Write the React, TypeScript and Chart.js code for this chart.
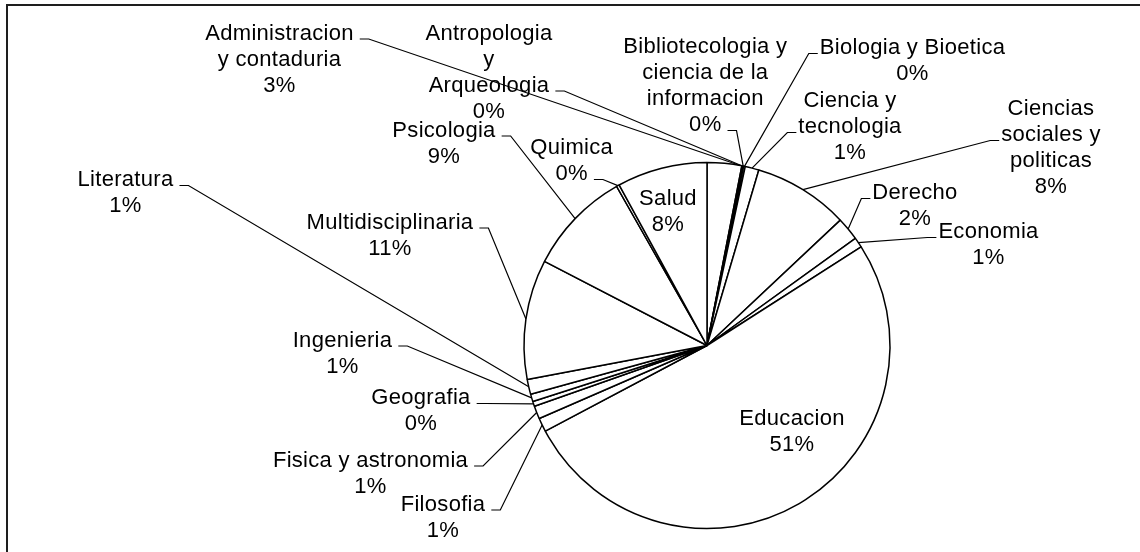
import React, { useEffect, useRef } from 'react';
import { Chart, registerables } from 'chart.js';

Chart.register(...registerables);

// Categories (line breaks as in the label boxes of the original)
const categories: string[] = [
  'Administracion\ny contaduria',
  'Antropologia\ny\nArqueologia',
  'Bibliotecologia y\nciencia de la\ninformacion',
  'Biologia y Bioetica',
  'Ciencia y\ntecnologia',
  'Ciencias\nsociales y\npoliticas',
  'Derecho',
  'Economia',
  'Educacion',
  'Filosofia',
  'Fisica y astronomia',
  'Geografia',
  'Ingenieria',
  'Literatura',
  'Multidisciplinaria',
  'Psicologia',
  'Quimica',
  'Salud',
];

// Share of each category (percent)
const shares: number[] = [
  3.05, 0.08, 0.08, 0.14, 1.22, 8.42, 2.06, 0.89, 51.3,
  1.22, 1.14, 0.44, 0.67, 1.31, 10.58, 9.17, 0.25, 7.97,
];

// Label layout: block centre-x and first baseline relative to the pie centre (px),
// the line the leader leaves from, which side, and where on the slice arc it ends.
type Placement = { dx: number; dy: number; line: number; side: 'l' | 'r' | null; at?: number };
const labelPlacement: Placement[] = [
  { dx: -427.5, dy: -306, line: 0, side: 'r', at: 0.95 },
  { dx: -218, dy: -306, line: 2, side: 'r' },
  { dx: -1.7, dy: -292.5, line: 3, side: 'r' },
  { dx: 205.5, dy: -291.5, line: 0, side: 'l' },
  { dx: 143, dy: -238.5, line: 1, side: 'l' },
  { dx: 344, dy: -230.5, line: 1, side: 'l' },
  { dx: 208, dy: -146.5, line: 0, side: 'l' },
  { dx: 281.5, dy: -107.5, line: 0, side: 'l' },
  { dx: 85, dy: 79.5, line: 0, side: null },
  { dx: -264, dy: 165, line: 0, side: 'r' },
  { dx: -336.5, dy: 121, line: 0, side: 'r' },
  { dx: -286, dy: 58.5, line: 0, side: 'r' },
  { dx: -364.5, dy: 1, line: 0, side: 'r' },
  { dx: -581.5, dy: -159.5, line: 0, side: 'r' },
  { dx: -317, dy: -117, line: 0, side: 'r' },
  { dx: -263, dy: -209, line: 0, side: 'r' },
  { dx: -135.3, dy: -191.5, line: 1, side: 'r' },
  { dx: -39, dy: -140.5, line: 0, side: null },
];

const FONT = '22px "Liberation Sans", Arial, Helvetica, sans-serif';
const LINE_H = 26;

const framePlugin = {
  id: 'frame',
  beforeDraw(chart: any) {
    const { ctx, width, height } = chart;
    ctx.save();
    ctx.fillStyle = '#ffffff';
    ctx.fillRect(0, 0, width, height);
    ctx.strokeStyle = '#1e1e1e';
    ctx.lineWidth = 2;
    ctx.beginPath();
    ctx.moveTo(7, height + 2);
    ctx.lineTo(7, 5);
    ctx.lineTo(width + 2, 5);
    ctx.stroke();
    ctx.restore();
  },
};

const labelPlugin = {
  id: 'pieLabels',
  afterDraw(chart: any) {
    const ctx = chart.ctx as CanvasRenderingContext2D;
    const meta = chart.getDatasetMeta(0);
    const values: number[] = chart.data.datasets[0].data;
    const total = values.reduce((a, b) => a + b, 0);
    ctx.save();
    ctx.font = FONT;
    (ctx as any).letterSpacing = '0.3px';
    ctx.fillStyle = '#000';
    ctx.strokeStyle = '#000';
    ctx.lineWidth = 1.2;
    ctx.textAlign = 'center';
    ctx.textBaseline = 'alphabetic';
    meta.data.forEach((arc: any, i: number) => {
      const p = arc.getProps(['x', 'y', 'startAngle', 'endAngle', 'outerRadius'], true);
      const place = labelPlacement[i];
      const lines = String(chart.data.labels[i]).split('\n');
      lines.push(Math.round((values[i] / total) * 100) + '%');
      const cx = p.x + place.dx;
      const by = p.y + place.dy;
      lines.forEach((t, k) => ctx.fillText(t, cx, by + k * LINE_H));
      if (place.side) {
        const w = ctx.measureText(lines[place.line]).width;
        const ly = by + place.line * LINE_H - 0.5;
        const a = p.startAngle + (place.at ?? 0.5) * (p.endAngle - p.startAngle);
        const ax = p.x + p.outerRadius * Math.cos(a);
        const ay = p.y + p.outerRadius * Math.sin(a);
        let x0: number, x1: number;
        if (place.side === 'r') {
          x0 = cx + w / 2 + 6;
          x1 = x0 + 9;
        } else {
          x0 = cx - w / 2 - 2;
          x1 = x0 - 9;
        }
        ctx.beginPath();
        ctx.moveTo(x0, ly);
        ctx.lineTo(x1, ly);
        ctx.lineTo(ax, ay);
        ctx.stroke();
      }
    });
    ctx.restore();
  },
};

export default function App() {
  const ref = useRef<HTMLCanvasElement | null>(null);
  useEffect(() => {
    if (!ref.current) return;
    const chart = new Chart(ref.current, {
      type: 'pie',
      data: {
        labels: categories,
        datasets: [
          {
            data: shares,
            backgroundColor: '#ffffff',
            borderColor: '#000000',
            borderWidth: 1.5,
          },
        ],
      },
      options: {
        responsive: false,
        animation: false,
        layout: { padding: { left: 523.25, right: 249.25, top: 161.75, bottom: 22.75 } },
        plugins: {
          legend: { display: false },
          tooltip: { enabled: false },
        },
      },
      plugins: [framePlugin, labelPlugin],
    });
    return () => chart.destroy();
  }, []);
  return (
    <div style={{ position: 'absolute', left: 0, top: 0, width: 1140, height: 552, background: '#fff' }}>
      <canvas ref={ref} width={1140} height={552} style={{ width: 1140, height: 552, display: 'block' }} />
    </div>
  );
}
